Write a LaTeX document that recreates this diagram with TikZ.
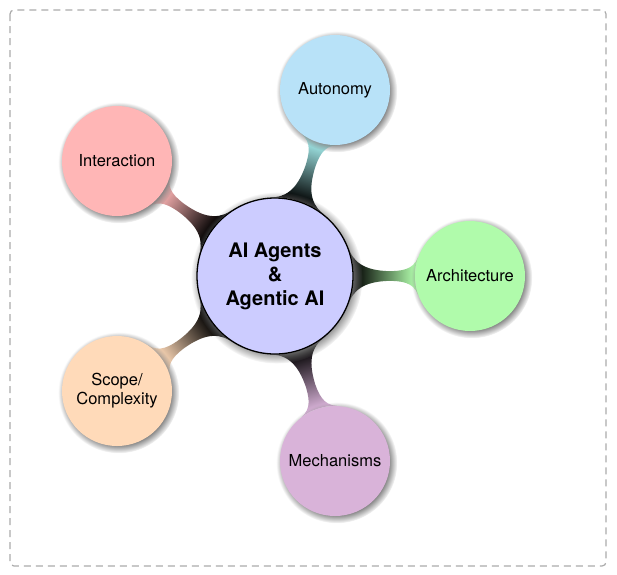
\documentclass[tikz,border=0pt]{standalone}
\usepackage{fontspec}
\setmainfont{TeX Gyre Heros}
\usetikzlibrary{mindmap,shadows,backgrounds}
\definecolor{rootc}{HTML}{CCCCFF}
\definecolor{autc}{HTML}{B8E2F8}
\definecolor{autl}{HTML}{A4ECEC}
\definecolor{arcc}{HTML}{B0FBAB}
\definecolor{mecc}{HTML}{D9B3D9}
\definecolor{scoc}{HTML}{FFDAB9}
\definecolor{intc}{HTML}{FFB6B6}
\definecolor{framec}{HTML}{AAAAAA}
\begin{document}
\begin{tikzpicture}[x=1pt,y=1pt,
  bub/.style={circle, minimum size=110pt, inner sep=0pt, align=center,
    font=\fontsize{16.5}{19}\selectfont, text=black, circular drop shadow},
  rootbub/.style={bub, fill=rootc, draw=black, line width=1.3pt, minimum size=156pt,
    font=\bfseries\fontsize{20}{24}\selectfont},
  frame/.style={draw=framec, line width=1.2pt, dash pattern=on 7pt off 5pt, rounded corners=4pt}
]
\useasboundingbox (0,0) rectangle (617,-574);
\draw[frame] (10,-10) rectangle (606,-566);
\node[rootbub] (root) at (275,-276) {AI Agents\\\&\\Agentic AI};
\node[bub, fill=autc] (aut) at (335,-90) {Autonomy};
\node[bub, fill=arcc] (arc) at (470,-276) {Architecture};
\node[bub, fill=mecc] (mec) at (335,-461) {Mechanisms};
\node[bub, fill=scoc] (sco) at (117,-391) {Scope/\\Complexity};
\node[bub, fill=intc] (int) at (117,-161) {Interaction};
\begin{pgfonlayer}{background}
\path (root) to[circle connection bar switch color=from (black) to (autl)] (aut);
\path (root) to[circle connection bar switch color=from (black) to (arcc)] (arc);
\path (root) to[circle connection bar switch color=from (black) to (mecc)] (mec);
\path (root) to[circle connection bar switch color=from (black) to (scoc)] (sco);
\path (root) to[circle connection bar switch color=from (black) to (intc)] (int);
\end{pgfonlayer}
\end{tikzpicture}
\end{document}
